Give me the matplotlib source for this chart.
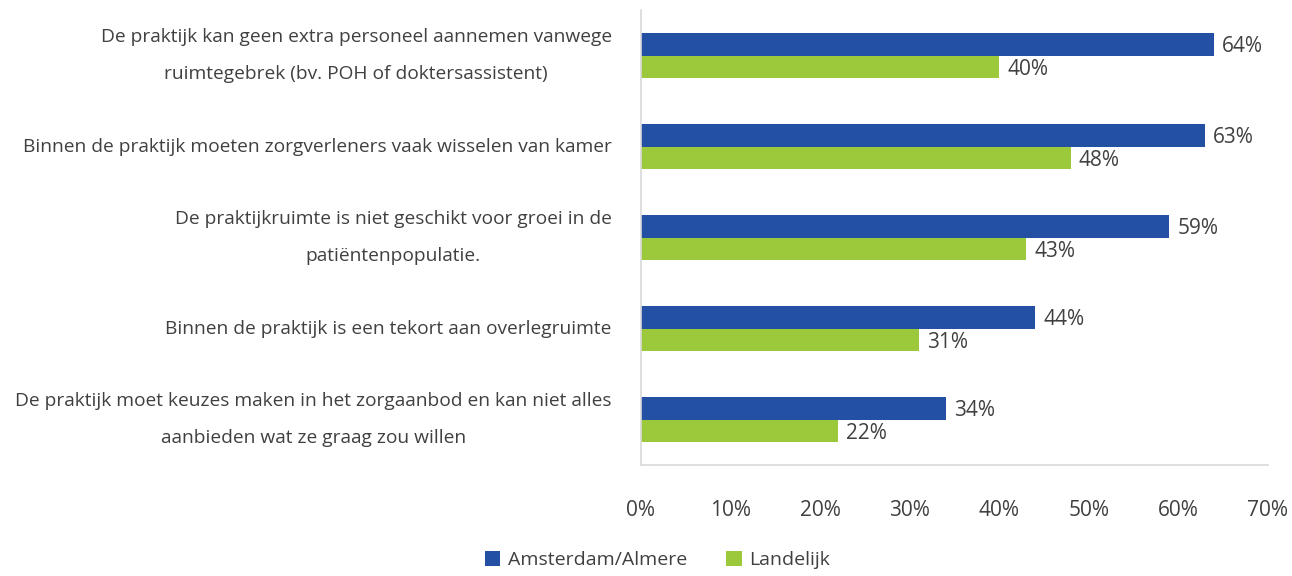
import matplotlib
matplotlib.use('Agg')
import matplotlib.pyplot as plt
import numpy as np

# 字體
plt.rcParams['font.family'] = ['Open Sans', 'DejaVu Sans']

categories = [
    'De praktijk kan geen extra personeel aannemen vanwege\nruimtegebrek (bv. POH of doktersassistent)',
    'Binnen de praktijk moeten zorgverleners vaak wisselen van kamer',
    'De praktijkruimte is niet geschikt voor groei in de\npatiëntenpopulatie.',
    'Binnen de praktijk is een tekort aan overlegruimte',
    'De praktijk moet keuzes maken in het zorgaanbod en kan niet alles\naanbieden wat ze graag zou willen',
]
amsterdam = [64, 63, 59, 44, 34]
landelijk = [40, 48, 43, 31, 22]
series_names = ['Amsterdam/Almere', 'Landelijk']
xticks = [0, 10, 20, 30, 40, 50, 60, 70]

blue = '#2450A4'
green = '#9BC93B'
txt = '#404040'

fig = plt.figure(figsize=(12.92, 5.76), dpi=100)
ax = fig.add_axes([0.4961, 0.1927, 0.4853, 0.7899])

y = np.arange(len(categories))
h = 0.25
b1 = ax.barh(y - h / 2, amsterdam, height=h, color=blue, label=series_names[0])
b2 = ax.barh(y + h / 2, landelijk, height=h, color=green, label=series_names[1])

for bars, vals in [(b1, amsterdam), (b2, landelijk)]:
    for bar, v in zip(bars, vals):
        ax.text(v + 0.9, bar.get_y() + bar.get_height() / 2 + 0.03, f'{v}%',
                va='center', ha='left', fontsize=15, color=txt)

ax.set_ylim(len(categories) - 0.5, -0.5)
ax.set_xlim(0, 70)
ax.set_xticks(xticks)
ax.set_xticklabels([f'{t}%' for t in xticks], fontsize=15, color=txt)
ax.set_yticks(y)
ax.set_yticklabels(categories, fontsize=13.8, color=txt, multialignment='center',
                   linespacing=2.4, va='center')
ax.tick_params(axis='x', length=0, pad=25)
ax.tick_params(axis='y', length=0, pad=21)

for s in ['top', 'right']:
    ax.spines[s].set_visible(False)
for s in ['left', 'bottom']:
    ax.spines[s].set_color('#D9D9D9')
    ax.spines[s].set_linewidth(1.2)

fig.legend(handles=[b1, b2], loc='center', bbox_to_anchor=(0.509, 0.028), ncol=2,
           frameon=False, fontsize=14, handlelength=0.8, handleheight=0.8,
           handletextpad=0.4, columnspacing=2.0, labelcolor=txt)

fig.savefig('out.png', dpi=100)
